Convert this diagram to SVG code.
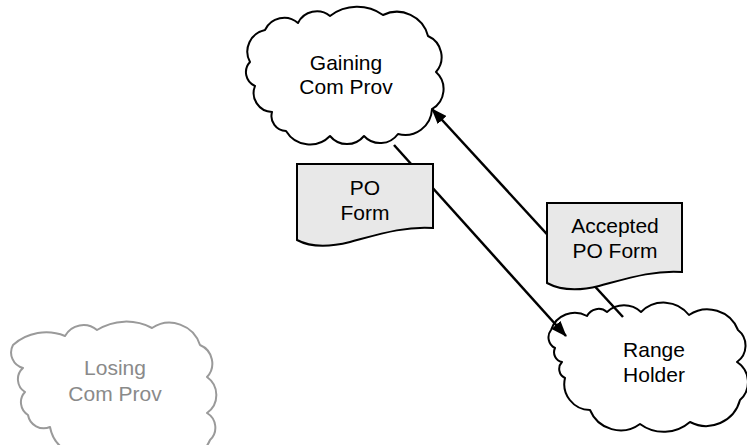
<svg xmlns="http://www.w3.org/2000/svg" width="747" height="445" viewBox="0 0 747 445">
<style>
.cloud{fill:#ffffff;stroke:#000;stroke-width:2;stroke-linejoin:round}
.cloud.gray{stroke:#9a9a9a}
.doc{fill:#e8e8e8;stroke:#000;stroke-width:2;stroke-linejoin:miter}
.conn{fill:none;stroke:#000;stroke-width:2.5}
.lbl{font-family:"Liberation Sans",Arial,sans-serif;font-size:21px;fill:#000;text-anchor:middle}
.lbl.gray{fill:#8a8a8a}
</style>
<defs>
<marker id="arrow" markerUnits="userSpaceOnUse" markerWidth="16" markerHeight="12" viewBox="0 0 16 12" refX="15" refY="6" orient="auto">
<path d="M0,0 L16,6 L0,12 z" fill="#000"/>
</marker>
</defs>
<g id="gaining">
<path class="cloud" d="M250,62 A22,22 0 0 1 265,30 A21,21 0 0 1 298,23 A21,21 0 0 1 330,16 A45,45 0 0 1 383,15 A32,32 0 0 1 428,36 A23,23 0 0 1 436,72 A23,23 0 0 1 432,109 A27,27 0 0 1 398,134 A22,22 0 0 1 364,136 A22,22 0 0 1 330,136 A28,28 0 0 1 286,131 A15,15 0 0 1 272,112 A19,19 0 0 1 255,86 A15,15 0 0 1 250,62 Z"/>
<text class="lbl" x="346" y="70">Gaining</text>
<text class="lbl" x="346" y="94">Com Prov</text>
</g>
<g id="range">
<path class="cloud" d="M551,330 A25,25 0 0 1 587,316 A13,13 0 0 1 607,312 A25,25 0 0 1 641,312 A32,32 0 0 1 689,315 A33,33 0 0 1 738,330 A20,20 0 0 1 737,362 A24,24 0 0 1 740,400 A35,35 0 0 1 690,422 A40,40 0 0 1 640,424 A33,33 0 0 1 590,410 A26,26 0 0 1 565,378 A10,10 0 0 1 562,362 A10,10 0 0 1 555,348 A12,12 0 0 1 551,330 Z"/>
<text class="lbl" x="654" y="357">Range</text>
<text class="lbl" x="654" y="382">Holder</text>
</g>
<g id="losing">
<path class="cloud gray" d="M13,345 A50,50 0 0 1 65,336 A21,21 0 0 1 97,330 A55,55 0 0 1 152,328 A32,32 0 0 1 200,345 A20,20 0 0 1 207,377 A22,22 0 0 1 207,413 A17,17 0 0 1 210,440 A32,32 0 0 1 160,452 A38,38 0 0 1 100,452 A35,35 0 0 1 50,427 A16,16 0 0 1 28,415 A15,15 0 0 1 25,392 A15,15 0 0 1 23,368 A16,16 0 0 1 13,345 Z"/>
<text class="lbl gray" x="115" y="375">Losing</text>
<text class="lbl gray" x="115" y="401">Com Prov</text>
</g>
<g id="connectors">
<line class="conn" x1="394" y1="145" x2="566" y2="336" marker-end="url(#arrow)"/>
<line class="conn" x1="623" y1="317" x2="432" y2="109" marker-end="url(#arrow)"/>
</g>
<g id="po-form">
<path class="doc" d="M297,164 H433 V228 C405,226 380,234 350,242 C330,247 310,247 297,240 Z"/>
<text class="lbl" x="365" y="195">PO</text>
<text class="lbl" x="365" y="220">Form</text>
</g>
<g id="accepted-po-form">
<path class="doc" d="M547,203 H682 V272 C654,270 629,278 599,286 C579,291 560,290 547,283 Z"/>
<text class="lbl" x="615" y="233">Accepted</text>
<text class="lbl" x="615" y="258">PO Form</text>
</g>
</svg>
